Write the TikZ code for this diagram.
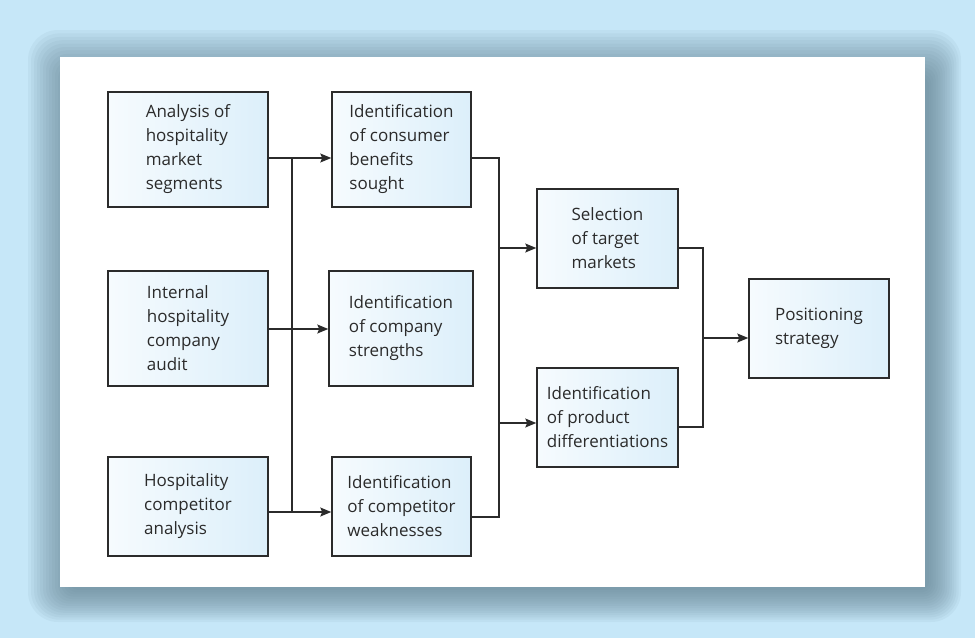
\documentclass[tikz,border=0pt]{standalone}
\usepackage{fontspec}
\setmainfont{Open Sans}
\usetikzlibrary{arrows.meta}
\definecolor{pagebg}{HTML}{C6E7F8}
\definecolor{shadowc}{HTML}{5E7D8D}
\definecolor{boxleft}{HTML}{F6FBFE}
\definecolor{boxright}{HTML}{DCEFFA}
\definecolor{ink}{HTML}{2B2B2B}
\tikzset{
  stage/.style = {draw=ink, line width=1.5pt, left color=boxleft,
                  right color=boxright, align=left, text=ink,
                  font=\fontsize{17}{24}\selectfont, inner sep=0pt},
  feed/.style = {draw=ink, line width=1.8pt},
  link/.style = {draw=ink, line width=1.2pt},
  flow/.style = {link, -{Stealth[length=11pt,width=9pt,inset=2pt]}}
}
\begin{document}
\begin{tikzpicture}[x=1pt,y=-1pt]
  % page and panel
  \fill[pagebg] (0,0) rectangle (975,638);
  \useasboundingbox (0,0) rectangle (975,638);
  \foreach \k in {0,...,14}
    \fill[shadowc, opacity=0.07, rounded corners=30pt-\k*1.6pt]
      (28+\k*3.0,30+\k*3.4) rectangle (961-\k*2.3,622-\k*2.3);
  \fill[white] (60,57) rectangle (925,587);

  % first column
  \node[stage, minimum width=160pt, minimum height=115pt] (segments) at (188,149.5)
    {Analysis of\\hospitality\\market\\segments};
  \node[stage, minimum width=160pt, minimum height=115pt] (audit) at (188,328.5)
    {Internal\\hospitality\\company\\audit};
  \node[stage, minimum width=160pt, minimum height=99pt] (rivals) at (188,506.5)
    {Hospitality\\competitor\\analysis};

  % second column
  \node[stage, minimum width=139pt, minimum height=115pt] (benefits) at (401.5,149.5)
    {Identification\\of consumer\\benefits\\sought};
  \node[stage, minimum width=144pt, minimum height=115pt] (strengths) at (401,328.5)
    {Identification\\of company\\strengths};
  \node[stage, minimum width=139pt, minimum height=99pt] (weakness) at (401.5,506.5)
    {Identification\\of competitor\\weaknesses};

  % third and fourth column
  \node[stage, minimum width=141pt, minimum height=99pt] (targets) at (607.5,238.5)
    {Selection\\of target\\markets};
  \node[stage, minimum width=141pt, minimum height=99pt] (differ) at (607.5,417.5)
    {Identification\\of product\\differentiations};
  \node[stage, minimum width=140pt, minimum height=99pt] (position) at (819,328.5)
    {Positioning\\strategy};

  % bus points
  \coordinate (busA) at (292,158);
  \coordinate (busB) at (292,329);
  \coordinate (busC) at (292,512);
  \coordinate (busD) at (499,158);
  \coordinate (busF) at (499,517);
  \coordinate (inG) at (499,248);
  \coordinate (inH) at (499,423);
  \coordinate (outG) at (703,248);
  \coordinate (outH) at (703,427);
  \coordinate (inI) at (703,338);

  % connectors
  \draw[feed] (segments.east |- busA) -- (busA);
  \draw[feed] (audit.east |- busB) -- (busB);
  \draw[feed] (rivals.east |- busC) -- (busC);
  \draw[link] (busA) -- (busC);
  \draw[flow] (busA) -- (benefits.west |- busA);
  \draw[flow] (busB) -- (strengths.west |- busB);
  \draw[flow] (busC) -- (weakness.west |- busC);

  \draw[link] (benefits.east |- busD) -- (busD) -- (busF) -- (weakness.east |- busF);
  \draw[flow] (inG) -- (inG -| targets.west);
  \draw[flow] (inH) -- (inH -| differ.west);

  \draw[link] (targets.east |- outG) -- (outG) -- (outH) -- (differ.east |- outH);
  \draw[flow] (inI) -- (inI -| position.west);
\end{tikzpicture}
\end{document}
